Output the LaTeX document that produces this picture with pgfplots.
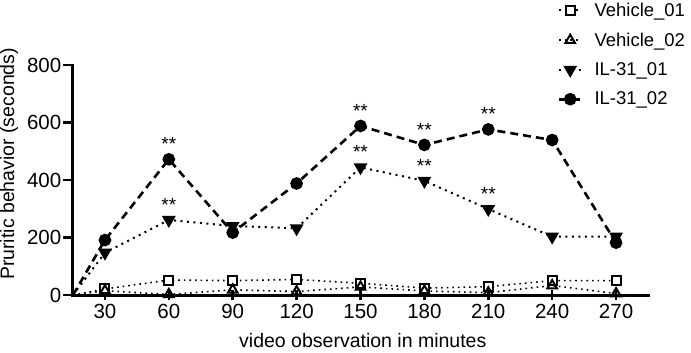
\documentclass[border=0pt]{standalone}
\usepackage{pgfplots}
\pgfplotsset{compat=1.18}
\usepackage{fontspec}
\setmainfont{Liberation Sans}
\begin{document}
\begin{tikzpicture}
\begin{axis}[
  scale only axis, width=575bp, height=230bp,
  xmin=15, xmax=285, ymin=0, ymax=800,
  axis lines=left,
  axis line style={line width=3bp, -, line cap=rect},
  xtick={30,60,...,270}, ytick={0,200,...,800},
  ytick align=outside, xtick align=center,
  major tick length=10bp,
  tick style={line width=2.5bp, black},
  tick label style={font=\fontsize{20.5bp}{22bp}\selectfont, inner sep=1.5bp},
  xticklabel style={yshift=-2bp},
  /pgf/number format/assume math mode=true,
  xlabel={video observation in minutes},
  ylabel={Pruritic behavior (seconds)},
  label style={font=\fontsize{19.5bp}{22bp}\selectfont},
  xlabel style={at={(axis description cs:0.504,-0.2)}, anchor=center},
  ylabel style={at={(axis description cs:-0.111,0.57)}, anchor=center},
  clip=false,
  legend cell align=left,
  legend style={draw=none, fill=none, inner sep=0pt, row sep=11bp, column sep=10bp,
    font=\fontsize{18.5bp}{21bp}\selectfont,
    nodes={inner sep=2bp},
    at={(axis description cs:0.843,1.28)}, anchor=north west},
  legend image code/.code={\draw[mark indices={2},#1] plot coordinates {(0bp,0bp) (11bp,0bp) (22bp,0bp)};},
]
\addplot[black, line width=1.6bp, dash pattern=on 1.6bp off 4bp, mark=square*, mark size=4.5bp,
  mark indices={2,3,4,5,6,7,8,9,10},
  mark options={solid, fill=white, line width=2bp}]
  coordinates {(15,0) (30,21) (60,52) (90,50) (120,54) (150,41) (180,24) (210,29) (240,50) (270,50)};
\addlegendentry{Vehicle\_01}
\addplot[black, line width=1.6bp, dash pattern=on 1.6bp off 4bp, mark=triangle, mark size=5.5bp,
  mark indices={2,3,4,5,6,7,8,9,10},
  mark options={solid, line width=2bp}]
  coordinates {(15,0) (30,15) (60,2) (90,18) (120,12) (150,28) (180,14) (210,8) (240,33) (270,5)};
\addlegendentry{Vehicle\_02}
\addplot[black, line width=2bp, dash pattern=on 2bp off 4.5bp, mark=triangle*, mark size=6bp,
  mark indices={2,3,4,5,6,7,8,9,10},
  mark options={solid, rotate=180}]
  coordinates {(15,0) (30,147) (60,261) (90,240) (120,232) (150,444) (180,397) (210,299) (240,203) (270,203)};
\addlegendentry{IL-31\_01}
\addplot[black, line width=2.6bp, dash pattern=on 8bp off 5bp, mark=*, mark size=5bp,
  mark indices={2,3,4,5,6,7,8,9,10},
  mark options={solid}]
  coordinates {(15,0) (30,191) (60,472) (90,217) (120,388) (150,588) (180,522) (210,576) (240,539) (270,182)};
\addlegendentry{IL-31\_02}
\addplot[draw=none, mark=none, forget plot, point meta=y, nodes near coords={**},
  every node near coord/.append style={anchor=center, yshift=15bp, font=\fontsize{19bp}{19bp}\selectfont}]
  coordinates {(60,472) (150,588) (180,522) (210,576) (60,261) (150,444) (180,397) (210,299)};
\end{axis}
\pgfresetboundingbox
\path[use as bounding box] (-73bp,-58bp) rectangle (618bp,295bp);
\end{tikzpicture}
\end{document}
